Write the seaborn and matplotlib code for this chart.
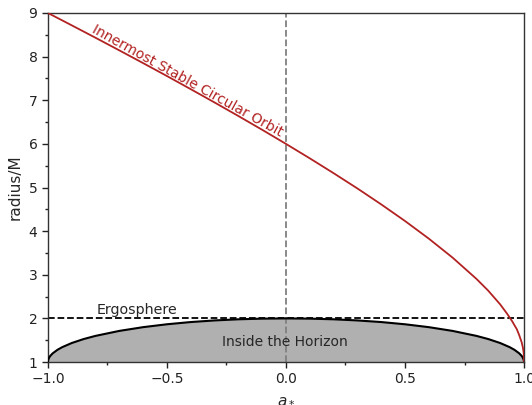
import matplotlib
matplotlib.use("Agg")
import matplotlib.pyplot as plt
from matplotlib.ticker import MultipleLocator
import seaborn as sns
import pandas as pd

# Spin parameter and ISCO radius
isco_spin = [-1.0, -0.9, -0.8, -0.7, -0.6, -0.5, -0.4, -0.3, -0.2, -0.1, 0.0,
             0.1, 0.2, 0.3, 0.4, 0.5, 0.6, 0.7, 0.8, 0.85, 0.9, 0.93, 0.95,
             0.97, 0.98, 0.99, 0.995, 0.998, 0.999, 1.0]
isco_radius = [9.0, 8.717, 8.432, 8.143, 7.851, 7.555, 7.254, 6.949, 6.639, 6.323, 6.0,
               5.669, 5.329, 4.979, 4.614, 4.233, 3.829, 3.393, 2.907, 2.634, 2.321,
               2.10, 1.937, 1.75, 1.614, 1.455, 1.34, 1.237, 1.18, 1.0]

# Event horizon radius
horizon_spin = [-1.0, -0.999, -0.995, -0.99, -0.98, -0.96, -0.94, -0.9, -0.85, -0.8, -0.7,
                -0.6, -0.5, -0.4, -0.3, -0.2, -0.1, 0.0, 0.1, 0.2, 0.3, 0.4, 0.5,
                0.6, 0.7, 0.8, 0.85, 0.9, 0.94, 0.96, 0.98, 0.99, 0.995, 0.999, 1.0]
horizon_radius = [1.0, 1.045, 1.100, 1.141, 1.199, 1.280, 1.341, 1.436, 1.527, 1.600, 1.714,
                  1.800, 1.866, 1.917, 1.954, 1.980, 1.995, 2.0, 1.995, 1.980, 1.954, 1.917, 1.866,
                  1.800, 1.714, 1.600, 1.527, 1.436, 1.341, 1.280, 1.199, 1.141, 1.100, 1.045, 1.0]

ergosphere_radius = 2.0

isco_df = pd.DataFrame({"a": isco_spin, "r": isco_radius})
hor_df = pd.DataFrame({"a": horizon_spin, "r": horizon_radius})

sns.set_style("ticks")
plt.rcParams["font.family"] = ["DejaVu Sans"]

fig = plt.figure(figsize=(5.32, 4.05), dpi=100)
ax = fig.add_axes([0.090, 0.106, 0.895, 0.862])

ax.fill_between(hor_df["a"], 1.0, hor_df["r"], color="#b0b0b0", zorder=1)
sns.lineplot(data=hor_df, x="a", y="r", ax=ax, color="black", lw=1.5, zorder=3)
sns.lineplot(data=isco_df, x="a", y="r", ax=ax, color="#b22222", lw=1.3, zorder=4)
ax.axhline(ergosphere_radius, color="black", ls="--", lw=1.3, zorder=2)
ax.axvline(0.0, color="gray", ls="--", lw=1.3, zorder=2)

ax.set_xlim(-1, 1)
ax.set_ylim(1, 9)
ax.xaxis.set_major_locator(MultipleLocator(0.5))
ax.xaxis.set_minor_locator(MultipleLocator(0.25))
ax.yaxis.set_major_locator(MultipleLocator(1))
ax.yaxis.set_minor_locator(MultipleLocator(0.5))
ax.tick_params(which="major", direction="out", length=4, width=1, labelsize=10, colors="#222222")
ax.tick_params(which="minor", direction="out", length=2.5, width=1, colors="#222222")
for s in ax.spines.values():
    s.set_color("#333333")
    s.set_linewidth(1.0)

ax.set_xlabel("$a_*$", fontsize=11)
ax.set_ylabel("radius/M", fontsize=11)

ax.text(-0.795, 2.04, "Ergosphere", fontsize=10.3, ha="left", va="bottom")
ax.text(-0.005, 1.45, "Inside the Horizon", fontsize=10, ha="center", va="center")
ax.text(-0.818, 8.56, "Innermost Stable Circular Orbit", fontsize=10, color="#b22222",
        rotation=-29, rotation_mode="anchor", ha="left", va="baseline")

fig.savefig("out.png", dpi=100)
